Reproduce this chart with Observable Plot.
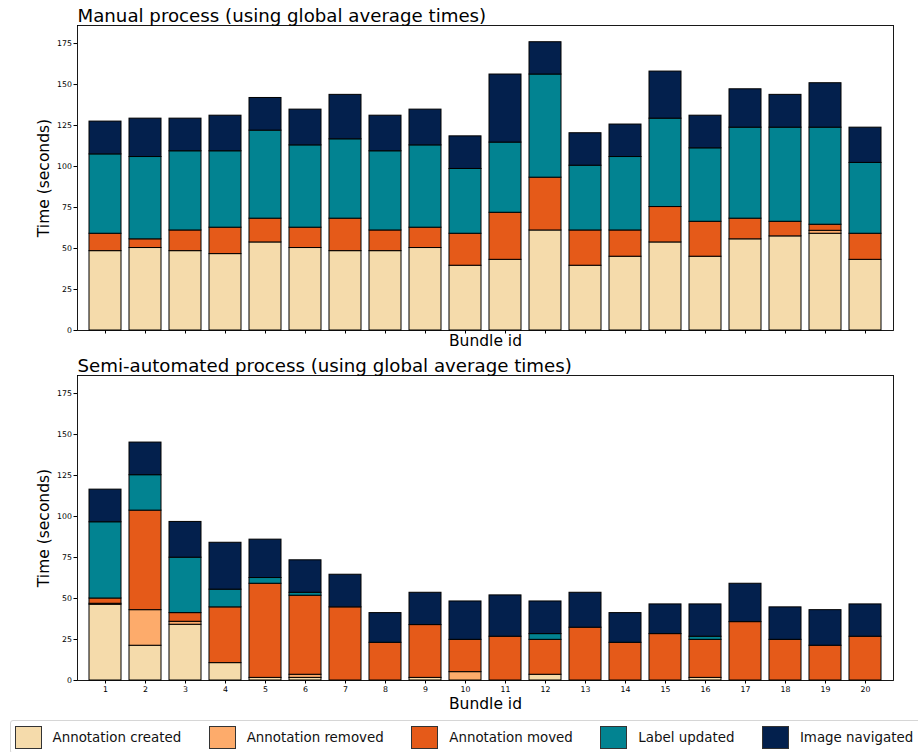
<!DOCTYPE html>
<html>
<head>
<meta charset="utf-8">
<script src="https://cdn.jsdelivr.net/npm/d3@7"></script>
<script src="https://cdn.jsdelivr.net/npm/@observablehq/plot@0.6"></script>
<style>
  html, body { margin: 0; padding: 0; background: white; overflow: hidden; }
  #root { position: relative; width: 918px; height: 752px; overflow: hidden; font-family: "DejaVu Sans", sans-serif; }
  .panel { position: absolute; left: 0; }
  #legend { position: absolute; left: 9.5px; top: 720px; width: 930px; height: 34px; box-sizing: border-box;
            border: 1px solid #d6d6d6; border-radius: 3px; display: flex; align-items: center; padding-left: 4px; background: white; }
  .item { display: flex; align-items: center; margin-right: 27.5px; font-size: 13.4px; color: #111; white-space: nowrap; }
  .sw { width: 27px; height: 23px; box-sizing: border-box; border: 1px solid #333; margin-right: 11px; }
</style>
</head>
<body>
<div id="root"></div>
<script>
// ---- data ----
const bundleIds = ["1","2","3","4","5","6","7","8","9","10","11","12","13","14","15","16","17","18","19","20"];
const categories = ["Annotation created", "Annotation removed", "Annotation moved", "Label updated", "Image navigated"];
const colors = ["#F5DBAB", "#FDAB6B", "#E55A19", "#028391", "#03204D"];
const yTicks = [0, 25, 50, 75, 100, 125, 150, 175];

// Manual process
const manualCreated = [48.4, 50.3, 48.4, 46.6, 53.7, 50.3, 48.4, 48.4, 50.3, 39.5, 43.1, 61.0, 39.5, 45.0, 53.7, 45.0, 55.6, 57.4, 59.0, 43.1];
const manualRemoved = [0, 0, 0, 0, 0, 0, 0, 0, 0, 0, 0, 0, 0, 0, 0, 0, 0, 0, 1.8, 0];
const manualMoved   = [10.6, 5.3, 12.6, 16.1, 14.5, 12.4, 19.8, 12.6, 12.4, 19.5, 28.7, 32.2, 21.5, 16.0, 21.6, 21.3, 12.6, 8.9, 3.7, 15.9];
const manualLabel   = [48.4, 50.2, 48.3, 46.6, 53.7, 50.2, 48.4, 48.3, 50.2, 39.5, 42.8, 62.9, 39.5, 44.8, 53.9, 44.8, 55.5, 57.4, 59.2, 43.2];
const manualNav     = [20.0, 23.4, 19.9, 21.7, 19.9, 21.8, 27.1, 21.7, 21.8, 19.9, 41.5, 19.7, 19.8, 19.8, 28.7, 19.9, 23.4, 20.0, 27.1, 21.5];

// Semi-automated process
const semiCreated = [46.2, 21.2, 34.0, 10.6, 1.6, 1.6, 0, 0, 1.6, 0, 0, 3.5, 0, 0, 0, 1.6, 0, 0, 0, 0];
const semiRemoved = [0.6, 21.7, 1.8, 0, 0, 1.9, 0, 0, 0, 5.1, 0, 0, 0, 0, 0, 0, 0, 0, 0, 0];
const semiMoved   = [3.2, 60.7, 5.3, 34.0, 57.4, 48.2, 44.6, 23.0, 32.2, 19.7, 26.7, 21.3, 32.2, 23.0, 28.3, 23.2, 35.6, 24.8, 21.2, 26.7];
const semiLabel   = [46.5, 21.6, 33.8, 10.8, 3.5, 1.8, 0, 0, 0, 0, 0, 3.5, 0, 0, 0, 1.9, 0, 0, 0, 0];
const semiNav     = [19.9, 19.9, 21.8, 28.6, 23.4, 19.8, 19.9, 18.1, 19.7, 23.4, 25.2, 19.9, 21.3, 18.1, 18.1, 19.7, 23.4, 19.8, 21.7, 19.7];

const manualTitle = "Manual process (using global average times)";
const semiTitle = "Semi-automated process (using global average times)";
const yLabel = "Time (seconds)";
const xLabel = "Bundle id";

function toRows(series) {
  const rows = [];
  bundleIds.forEach((b, i) => {
    series.forEach((s, k) => {
      if (s[i] > 0) rows.push({bundle: b, category: categories[k], value: s[i]});
    });
  });
  return rows;
}

function panel(rows, title, showXLabels, height, marginBottom, xLabelDy) {
  return Plot.plot({
    width: 918, height,
    marginLeft: 77, marginRight: 25, marginTop: 25, marginBottom,
    style: {fontFamily: "DejaVu Sans", color: "black", background: "white", overflow: "visible"},
    x: {type: "band", domain: bundleIds, paddingInner: 0.2, paddingOuter: 0.1, label: null},
    y: {domain: [0, 186], label: null},
    color: {domain: categories, range: colors},
    marks: [
      Plot.barY(rows, {x: "bundle", y: "value", fill: "category", stroke: "black", strokeWidth: 1}),
      Plot.axisY({ticks: yTicks, tickSize: 3.5, tickPadding: 2, fontSize: 7.8, label: null}),
      Plot.axisX({tickSize: 3.5, tickPadding: 2, fontSize: 7.8, label: null,
                  tickFormat: showXLabels ? (d => d) : (() => "")}),
      Plot.text([yLabel], {frameAnchor: "left", rotate: -90, textAnchor: "middle", lineAnchor: "top", dx: -40, fontSize: 15.5}),
      Plot.text([xLabel], {frameAnchor: "bottom", textAnchor: "middle", lineAnchor: "top", dy: xLabelDy, fontSize: 15.5}),
      Plot.text([title], {frameAnchor: "top-left", textAnchor: "start", lineAnchor: "bottom", dy: -3.6, fontSize: 18.2}),
      Plot.frame({stroke: "black", strokeWidth: 0.9})
    ]
  });
}

const root = document.getElementById("root");

const top1 = document.createElement("div");
top1.className = "panel"; top1.style.top = "0px";
top1.appendChild(panel(toRows([manualCreated, manualRemoved, manualMoved, manualLabel, manualNav]), manualTitle, false, 350, 20, 4));
root.appendChild(top1);

const bot = document.createElement("div");
bot.className = "panel"; bot.style.top = "350px";
bot.appendChild(panel(toRows([semiCreated, semiRemoved, semiMoved, semiLabel, semiNav]), semiTitle, true, 370, 40, 17));
root.appendChild(bot);

const legend = document.createElement("div");
legend.id = "legend";
categories.forEach((c, i) => {
  const item = document.createElement("div");
  item.className = "item";
  const sw = document.createElement("div");
  sw.className = "sw";
  sw.style.background = colors[i];
  const t = document.createElement("span");
  t.textContent = c;
  item.appendChild(sw); item.appendChild(t);
  legend.appendChild(item);
});
root.appendChild(legend);
</script>
</body>
</html>
